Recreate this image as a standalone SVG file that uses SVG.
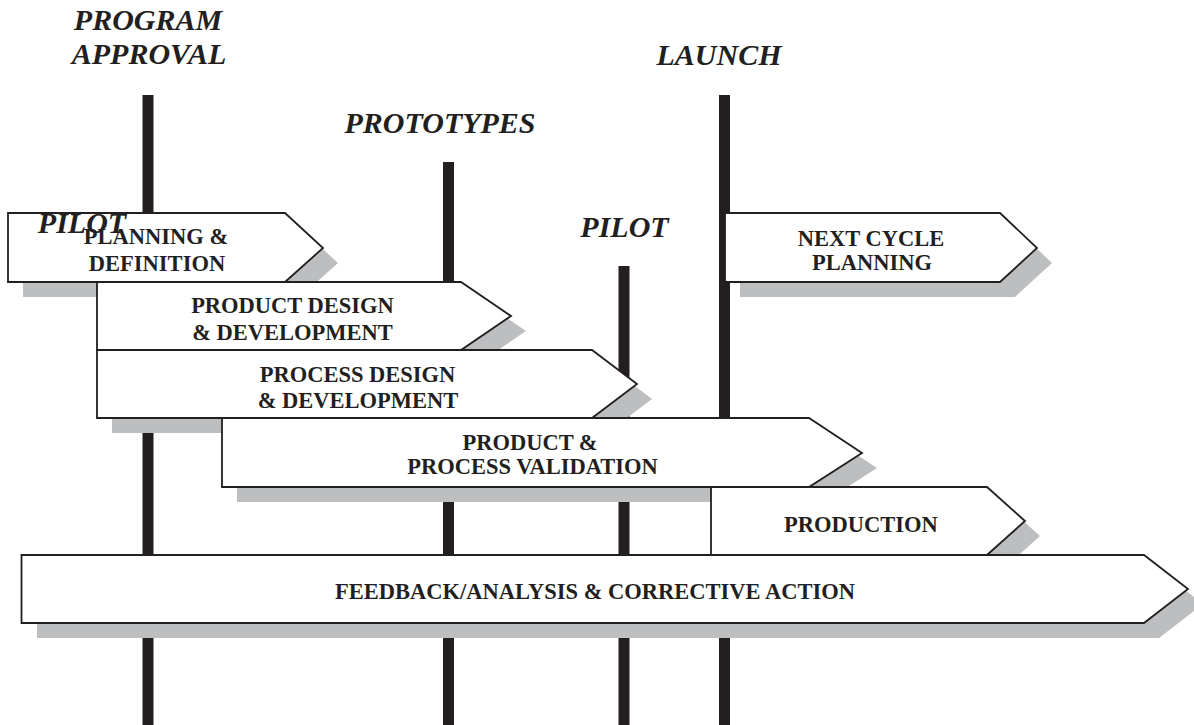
<svg xmlns="http://www.w3.org/2000/svg" width="1194" height="725" viewBox="0 0 1194 725">
<style>
.bar{fill:#231f20}
.sh{fill:#bcbec0}
.box{fill:#fff;stroke:#231f20;stroke-width:1.8;stroke-linejoin:miter}
.t{font-family:"Liberation Serif","Times New Roman",serif;font-weight:bold;font-size:22.5px;fill:#231f20;text-anchor:middle}
.m{font-family:"Liberation Serif","Times New Roman",serif;font-weight:bold;font-style:italic;font-size:30px;fill:#231f20;text-anchor:middle}
</style>
<rect width="1194" height="725" fill="#fff"/>
<g id="connectors">
<rect class="bar" x="142.5" y="95" width="11" height="630"/>
<rect class="bar" x="443" y="162" width="11" height="563"/>
<rect class="bar" x="618.5" y="266" width="11" height="459"/>
<rect class="bar" x="719" y="95" width="11" height="630"/>
</g>
<g id="milestones">
<text class="m" x="148" y="30">PROGRAM</text>
<text class="m" x="149" y="64">APPROVAL</text>
<text class="m" x="440" y="133">PROTOTYPES</text>
<text class="m" x="719" y="65">LAUNCH</text>
<text class="m" x="624.5" y="237">PILOT</text>
</g>
<g id="planning">
<polygon class="sh" points="23,228 300,228 338,263 300,297 23,297"/>
<polygon class="box" points="8,213 285,213 323,248 285,282 8,282"/>
<text class="t" x="156" y="244">PLANNING &amp;</text>
<text class="t" x="157" y="271">DEFINITION</text>
</g>
<g id="pilot-left">
<text class="m" x="82" y="233">PILOT</text>
</g>
<g id="product-design">
<polygon class="sh" points="112,297 476,297 526,331 476,365 112,365"/>
<polygon class="box" points="97,282 461,282 511,316 461,350 97,350"/>
<text class="t" x="292.5" y="313">PRODUCT DESIGN</text>
<text class="t" x="292.5" y="340">&amp; DEVELOPMENT</text>
</g>
<g id="process-design">
<polygon class="sh" points="112,365 607,365 652,399 607,433 112,433"/>
<polygon class="box" points="97,350 592,350 637,384 592,418 97,418"/>
<text class="t" x="357.5" y="382">PROCESS DESIGN</text>
<text class="t" x="358" y="408">&amp; DEVELOPMENT</text>
</g>
<g id="validation">
<polygon class="sh" points="237,433 824,433 877,468 824,502 237,502"/>
<polygon class="box" points="222,418 809,418 862,453 809,487 222,487"/>
<text class="t" x="530" y="450">PRODUCT &amp;</text>
<text class="t" x="532.5" y="474">PROCESS VALIDATION</text>
</g>
<g id="next-cycle">
<polygon class="sh" points="740,228 1015,228 1052,263 1015,297 740,297"/>
<polygon class="box" points="725,213 1000,213 1037,248 1000,282 725,282"/>
<text class="t" x="871" y="246">NEXT CYCLE</text>
<text class="t" x="872" y="270">PLANNING</text>
</g>
<g id="production">
<polygon class="sh" points="726,502 1002,502 1040,536 1002,570 726,570"/>
<polygon class="box" points="711,487 987,487 1025,521 987,555 711,555"/>
<text class="t" x="861" y="532">PRODUCTION</text>
</g>
<g id="feedback">
<polygon class="sh" points="37,570 1159,570 1203,604 1159,638 37,638"/>
<polygon class="box" points="21.5,555 1144,555 1188,589 1144,623 21.5,623"/>
<text class="t" x="595" y="599">FEEDBACK/ANALYSIS &amp; CORRECTIVE ACTION</text>
</g>
</svg>
